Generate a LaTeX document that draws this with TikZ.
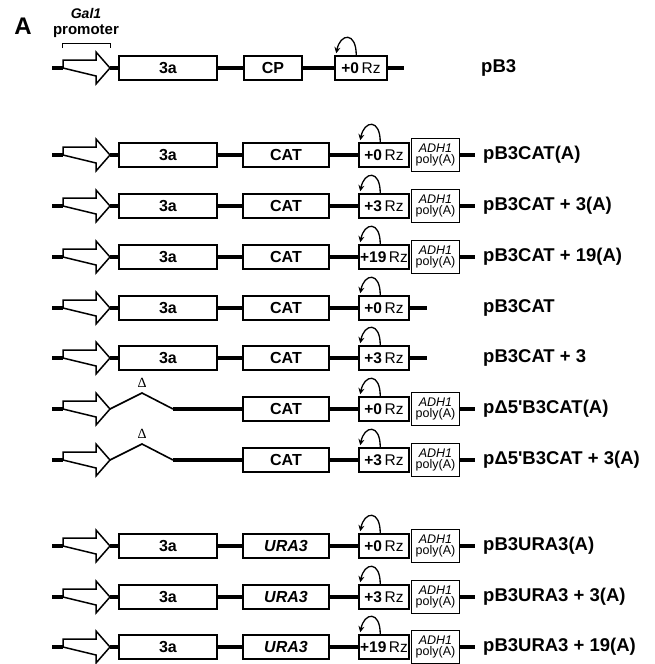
\documentclass[tikz,border=0pt]{standalone}
\usepackage{fontspec}
\setmainfont{Liberation Sans}
\newfontfamily\serifD{Liberation Serif}
\usetikzlibrary{arrows.meta,calc}
\tikzset{
 dna/.style={line width=4.8pt},
 thinl/.style={line width=1.6pt, line join=miter},
 promo/.style={draw, line width=1.5pt, fill=white, line join=miter},
 gbox/.style={draw, line width=1.5pt, fill=white, minimum height=24pt, inner sep=0pt, font=\fontsize{16}{16}\selectfont\bfseries},
 rzbox/.style={draw, line width=1.5pt, minimum height=24pt, minimum width=50pt, inner sep=0pt, font=\fontsize{15.5}{15}\selectfont},
 adhbox/.style={draw, line width=1.5pt, minimum height=33pt, minimum width=48pt, inner sep=0pt, align=center, font=\fontsize{12.5}{11}\selectfont},
 rzarr/.style={line width=1.3pt, -{Stealth[length=6pt,width=6pt]}},
 lbl/.style={anchor=west, inner sep=0pt, font=\fontsize{18.5}{18.5}\selectfont\bfseries},
 ttl/.style={inner sep=0pt, font=\fontsize{15}{15}\selectfont\bfseries},
}
% promoter arrow with left stub
\newcommand\promrow[2]{%
  \coordinate (#1-s) at (52,#2);
  \coordinate (#1-b) at (63,#2);
  \coordinate (#1-t) at (110,#2);
  \draw[dna] (#1-s) -- (#1-b);
  \draw[promo] (63,#2-8) -- (96,#2-8) -- (96,#2-16) -- (#1-t) -- (96,#2+16) -- (96,#2+8) -- (#1-b) -- cycle;
}
\newcommand\threea[2]{%
  \node[gbox, minimum width=98pt] (#1-a) at (168,#2) {3a};
  \draw[dna] (#1-t) -- (#1-a.west);
}
\newcommand\delrow[2]{%
  \coordinate (#1-p) at (142,#2-16);
  \coordinate (#1-d) at (173,#2);
  \draw[thinl] (#1-t) -- (#1-p) -- (#1-d);
  \node[inner sep=0pt, font=\fontsize{14}{14}\selectfont\serifD] (#1-delta) at (142,#2-26) {Δ};
}
\newcommand\midbox[3]{%
  \node[gbox, minimum width=86pt] (#1-g) at (286,#2) {#3};
}
\newcommand\rzarrow[1]{%
  \draw[rzarr] ([xshift=22pt]#1.north west) .. controls +(0,-24) and +(4,-20) .. ([xshift=2pt,yshift=2pt]#1.north west);
}
\newcommand\rzunit[3]{%
  \node[rzbox] (#1-rz) at (384,#2) {\textbf{#3}\hspace{2.5pt}Rz};
  \rzarrow{#1-rz}
  \draw[dna] (#1-g.east) -- (#1-rz.west);
}
\newcommand\adh[2]{%
  \node[adhbox, anchor=west] (#1-adh) at ([xshift=1pt]#1-rz.east) {\itshape ADH1\\poly(A)};
  \coordinate (#1-e) at (475,#2);
  \draw[dna] (#1-adh.east) -- (#1-e);
}
\newcommand\noadh[2]{%
  \coordinate (#1-e) at (427,#2);
  \draw[dna] (#1-rz.east) -- (#1-e);
}
\begin{document}
\begin{tikzpicture}[x=1pt,y=-1pt]
\useasboundingbox[fill=white] (0,0) rectangle (654,664);

% header
\node[inner sep=0pt, font=\fontsize{24}{24}\selectfont\bfseries] (A) at (23,26) {A};
\node[ttl, font=\fontsize{14}{14}\selectfont\bfseries\itshape] (gal) at (86,13) {Gal1};
\node[ttl] (prm) at (86,31.5) {promoter};
\coordinate (br1) at (62,48);
\coordinate (br2) at (110,48);
\draw[line width=1pt] (br1) -- ++(0,-5) -| (br2);

% row 1: pB3
\promrow{r1}{68}
\threea{r1}{68}
\node[gbox, minimum width=58pt] (r1-g) at (273,68) {CP};
\draw[dna] (r1-a.east) -- (r1-g.west);
\node[rzbox, minimum width=52pt] (r1-rz) at (361,68) {\textbf{+0}\hspace{2.5pt}Rz};
\rzarrow{r1-rz}
\draw[dna] (r1-g.east) -- (r1-rz.west);
\coordinate (r1-e) at (404,68);
\draw[dna] (r1-rz.east) -- (r1-e);
\node[lbl] (r1-l) at (481,68) {pB3};

% CAT rows
\promrow{r2}{155}\threea{r2}{155}\midbox{r2}{155}{CAT}\draw[dna] (r2-a.east) -- (r2-g.west);
\rzunit{r2}{155}{+0}\adh{r2}{155}
\node[lbl] (r2-l) at (483,155) {pB3CAT(A)};

\promrow{r3}{206}\threea{r3}{206}\midbox{r3}{206}{CAT}\draw[dna] (r3-a.east) -- (r3-g.west);
\rzunit{r3}{206}{+3}\adh{r3}{206}
\node[lbl] (r3-l) at (483,206) {pB3CAT + 3(A)};

\promrow{r4}{257}\threea{r4}{257}\midbox{r4}{257}{CAT}\draw[dna] (r4-a.east) -- (r4-g.west);
\rzunit{r4}{257}{+19}\adh{r4}{257}
\node[lbl] (r4-l) at (483,257) {pB3CAT + 19(A)};

\promrow{r5}{308}\threea{r5}{308}\midbox{r5}{308}{CAT}\draw[dna] (r5-a.east) -- (r5-g.west);
\rzunit{r5}{308}{+0}\noadh{r5}{308}
\node[lbl] (r5-l) at (483,308) {pB3CAT};

\promrow{r6}{358}\threea{r6}{358}\midbox{r6}{358}{CAT}\draw[dna] (r6-a.east) -- (r6-g.west);
\rzunit{r6}{358}{+3}\noadh{r6}{358}
\node[lbl] (r6-l) at (483,358) {pB3CAT + 3};

% delta rows
\promrow{r7}{409}\delrow{r7}{409}\midbox{r7}{409}{CAT}\draw[dna] (r7-d) -- (r7-g.west);
\rzunit{r7}{409}{+0}\adh{r7}{409}
\node[lbl] (r7-l) at (483,409) {pΔ5\textquotesingle B3CAT(A)};

\promrow{r8}{460}\delrow{r8}{460}\midbox{r8}{460}{CAT}\draw[dna] (r8-d) -- (r8-g.west);
\rzunit{r8}{460}{+3}\adh{r8}{460}
\node[lbl] (r8-l) at (483,460) {pΔ5\textquotesingle B3CAT + 3(A)};

% URA3 rows
\promrow{r9}{546}\threea{r9}{546}\midbox{r9}{546}{\itshape URA3}\draw[dna] (r9-a.east) -- (r9-g.west);
\rzunit{r9}{546}{+0}\adh{r9}{546}
\node[lbl] (r9-l) at (483,546) {pB3URA3(A)};

\promrow{r10}{597}\threea{r10}{597}\midbox{r10}{597}{\itshape URA3}\draw[dna] (r10-a.east) -- (r10-g.west);
\rzunit{r10}{597}{+3}\adh{r10}{597}
\node[lbl] (r10-l) at (483,597) {pB3URA3 + 3(A)};

\promrow{r11}{647}\threea{r11}{647}\midbox{r11}{647}{\itshape URA3}\draw[dna] (r11-a.east) -- (r11-g.west);
\rzunit{r11}{647}{+19}\adh{r11}{647}
\node[lbl] (r11-l) at (483,647) {pB3URA3 + 19(A)};
\end{tikzpicture}
\end{document}
